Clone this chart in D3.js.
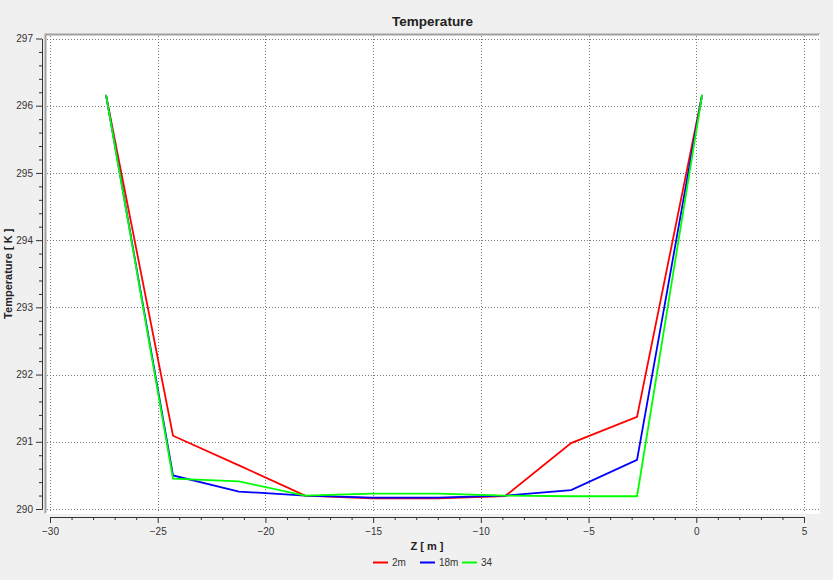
<!DOCTYPE html>
<html>
<head>
<meta charset="utf-8">
<script src="https://cdn.jsdelivr.net/npm/d3@7"></script>
<style>
  html, body { margin: 0; padding: 0; background: #f0f0f0; }
  svg { display: block; }
  text { font-family: "Liberation Sans", Arial, sans-serif; }
</style>
</head>
<body>
<svg id="chart" width="833" height="580"></svg>
<script>
// Position along the pipe (m)
const zValues = [-27.40, -24.29, -21.23, -18.16, -15.05, -11.99, -8.88, -5.81, -2.75, 0.27];

// Temperature profiles (K)
const temp2m  = [296.16, 291.09, 290.65, 290.20, 290.16, 290.16, 290.19, 290.98, 291.37, 296.16];
const temp18m = [296.16, 290.50, 290.26, 290.20, 290.17, 290.17, 290.20, 290.28, 290.73, 296.16];
const temp34  = [296.16, 290.45, 290.41, 290.20, 290.23, 290.23, 290.20, 290.19, 290.19, 296.16];

const seriesNames  = ["2m", "18m", "34"];
const seriesColors = ["#ff0000", "#0000ff", "#00ff00"];
const seriesValues = [temp2m, temp18m, temp34];

const xMajorTicks = d3.range(-30, 6, 5);
const xMinorTicks = d3.range(-30, 6, 1).filter(v => v % 5 !== 0);
const yMajorTicks = d3.range(290, 298, 1);
const yMinorTicks = d3.range(0, 36).map(i => 290 + i * 0.2).filter(v => Math.abs(v - Math.round(v)) > 1e-6);

const svg = d3.select("#chart");
const W = 833, H = 580;

const canvas = { left: 45, top: 34, right: 820, bottom: 514 };
const x = d3.scaleLinear().domain([-30, 5]).range([50, 804]);
const y = d3.scaleLinear().domain([290, 297]).range([509, 38.5]);

// Background
svg.append("rect").attr("width", W).attr("height", H).attr("fill", "#f0f0f0");

// Plot canvas with sunken frame
svg.append("rect")
  .attr("x", canvas.left).attr("y", canvas.top)
  .attr("width", canvas.right - canvas.left).attr("height", canvas.bottom - canvas.top)
  .attr("fill", "#ffffff");
svg.append("path")
  .attr("d", `M${canvas.left + 0.5},${canvas.bottom}V${canvas.top + 0.5}H${canvas.right}`)
  .attr("fill", "none").attr("stroke", "#a0a0a0").attr("stroke-width", 2);
svg.append("path")
  .attr("d", `M${canvas.left},${canvas.bottom - 0.5}H${canvas.right - 0.5}V${canvas.top}`)
  .attr("fill", "none").attr("stroke", "#ffffff").attr("stroke-width", 1);

// Grid
const grid = svg.append("g").attr("stroke", "#7a7a7a").attr("stroke-width", 1)
  .attr("stroke-dasharray", "1,2").attr("fill", "none");
grid.selectAll(".gx").data(xMajorTicks).join("line")
  .attr("x1", d => Math.round(x(d)) + 0.5).attr("x2", d => Math.round(x(d)) + 0.5)
  .attr("y1", canvas.top + 2).attr("y2", canvas.bottom - 1);
grid.selectAll(".gy").data(yMajorTicks).join("line")
  .attr("y1", d => Math.round(y(d)) + 0.5).attr("y2", d => Math.round(y(d)) + 0.5)
  .attr("x1", canvas.left + 2).attr("x2", canvas.right - 1);

// Axes
function styleAxis(g) {
  g.selectAll("path.domain").attr("stroke", "#333");
  g.selectAll(".tick line").attr("stroke", "#333");
  g.selectAll(".tick text").attr("fill", "#333")
    .style("font-family", "'Liberation Sans', Arial, sans-serif").style("font-size", "10px");
}

const xAxisY = 517;
svg.append("g").attr("transform", `translate(0,${xAxisY})`)
  .call(d3.axisBottom(x).tickValues(xMinorTicks).tickSize(3).tickSizeOuter(0).tickFormat(""))
  .call(styleAxis);
svg.append("g").attr("transform", `translate(0,${xAxisY})`)
  .call(d3.axisBottom(x).tickValues(xMajorTicks).tickSize(6).tickSizeOuter(0).tickPadding(5).tickFormat(d3.format("d")))
  .call(styleAxis);

const yAxisX = 42;
svg.append("g").attr("transform", `translate(${yAxisX},0)`)
  .call(d3.axisLeft(y).tickValues(yMinorTicks).tickSize(3).tickSizeOuter(0).tickFormat(""))
  .call(styleAxis);
svg.append("g").attr("transform", `translate(${yAxisX},0)`)
  .call(d3.axisLeft(y).tickValues(yMajorTicks).tickSize(6).tickSizeOuter(0).tickPadding(3).tickFormat(d3.format("d")))
  .call(styleAxis);

// Series
const line = d3.line().x((d, i) => x(zValues[i])).y(d => y(d));
const plot = svg.append("g");
seriesValues.forEach((vals, k) => {
  plot.append("path").datum(vals)
    .attr("d", line)
    .attr("fill", "none")
    .attr("stroke", seriesColors[k])
    .attr("stroke-width", 1.8)
    .attr("stroke-linejoin", "miter");
});

// Titles
svg.append("text").attr("x", (canvas.left + canvas.right) / 2).attr("y", 26)
  .attr("text-anchor", "middle").attr("font-weight", "bold").attr("font-size", 13.5)
  .attr("fill", "#222").text("Temperature");

svg.append("text").attr("x", (x.range()[0] + x.range()[1]) / 2).attr("y", 550)
  .attr("text-anchor", "middle").attr("font-weight", "bold").attr("font-size", 11)
  .attr("fill", "#222").text("Z [ m ]");

svg.append("text")
  .attr("transform", `translate(12,${(y.range()[0] + y.range()[1]) / 2}) rotate(-90)`)
  .attr("text-anchor", "middle").attr("font-weight", "bold").attr("font-size", 11)
  .attr("fill", "#222").text("Temperature [ K ]");

// Legend
const legendItems = [
  { x: 373 }, { x: 420 }, { x: 462 }
];
const legend = svg.append("g");
seriesNames.forEach((name, k) => {
  const g = legend.append("g").attr("transform", `translate(${legendItems[k].x},562)`);
  g.append("line").attr("x1", 0).attr("x2", 15).attr("y1", 0.5).attr("y2", 0.5)
    .attr("stroke", seriesColors[k]).attr("stroke-width", 2);
  g.append("text").attr("x", 19).attr("y", 4).attr("font-size", 10)
    .attr("fill", "#333").text(name);
});
</script>
</body>
</html>
